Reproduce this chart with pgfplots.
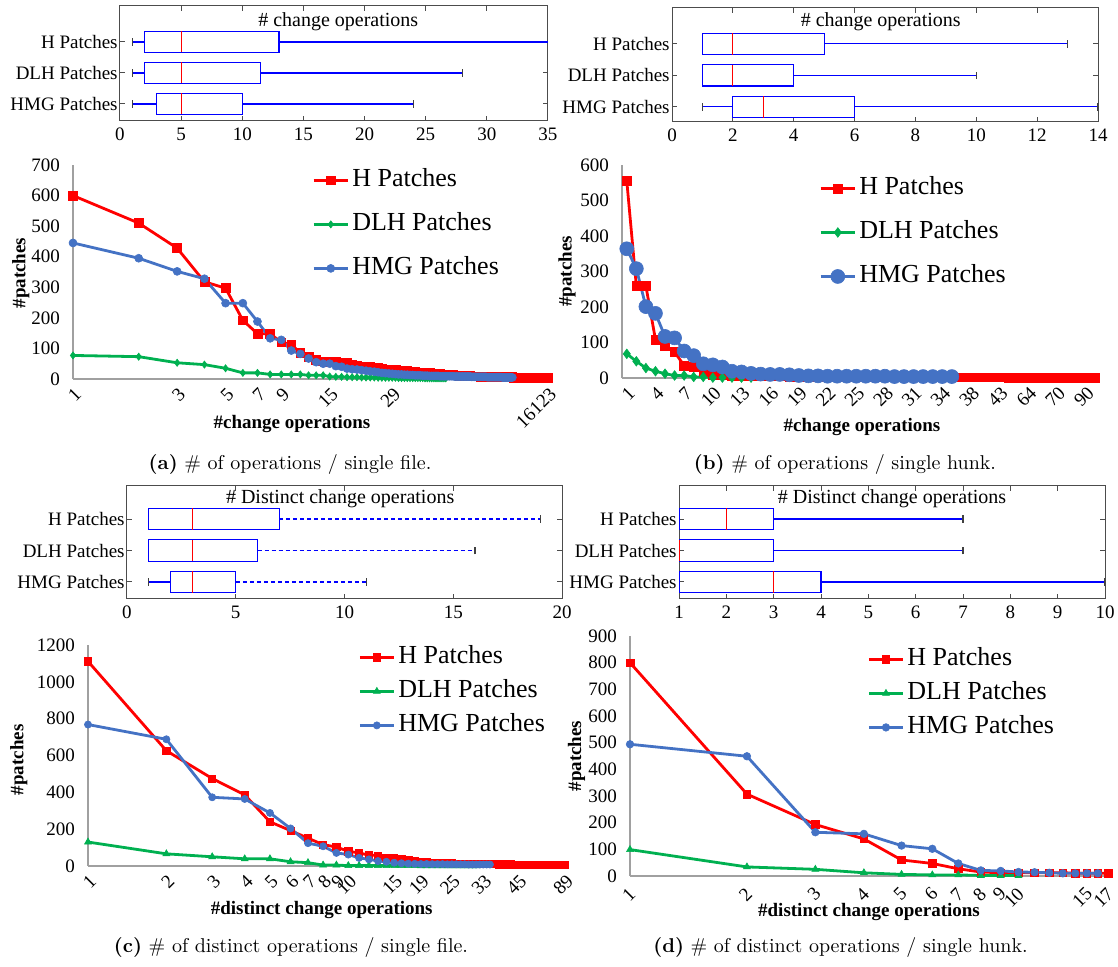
\documentclass[border=0pt]{standalone}
\usepackage{fontspec}
\usepackage{pgfplots}
\usepackage{pgfplotstable}
\pgfplotsset{compat=1.18}
\usepgfplotslibrary{statistics}
\newfontfamily\tnr{Liberation Serif}
\definecolor{xred}{RGB}{255,0,0}
\definecolor{xgreen}{RGB}{0,176,80}
\definecolor{xblue}{RGB}{68,114,196}
\definecolor{mblue}{RGB}{0,0,255}
\definecolor{axgray}{RGB}{160,160,160}
\tikzset{uwhisk/.style={}}

% ---- line chart data (one value per category, in category order) ----
\pgfplotstableread[row sep=\\]{v\\
600\\510\\428\\318\\297\\192\\148\\148\\120\\113\\85\\72\\62\\58\\56\\55\\54\\53\\48\\43\\
41\\40\\39\\38\\36\\34\\32\\31\\30\\29\\28\\27\\26\\26\\25\\24\\23\\22\\22\\21\\
20\\19\\19\\18\\17\\17\\16\\16\\15\\15\\14\\14\\13\\13\\13\\12\\12\\12\\11\\11\\
11\\10\\10\\10\\10\\10\\9\\9\\9\\9\\9\\9\\9\\8\\8\\8\\8\\8\\8\\8\\
8\\8\\7\\7\\7\\7\\7\\7\\7\\7\\7\\6\\6\\6\\6\\6\\6\\6\\6\\6\\
6\\6\\6\\5\\5\\5\\5\\5\\5\\5\\5\\5\\5\\5\\5\\5\\5\\5\\5\\5\\
4\\4\\4\\4\\4\\4\\4\\4\\4\\4\\4\\4\\4\\4\\4\\4\\4\\4\\4\\4\\
4\\4\\3\\3\\3\\3\\3\\3\\3\\3\\}\aH
\pgfplotstableread[row sep=\\]{v\\
77\\73\\53\\47\\35\\20\\20\\15\\15\\15\\15\\12\\12\\12\\8\\7\\7\\6\\6\\6\\
5\\5\\5\\5\\4\\4\\4\\4\\4\\4\\3\\3\\3\\3\\3\\3\\3\\3\\3\\3\\
2\\2\\2\\2\\2\\2\\2\\2\\2\\2\\2\\}\aD
\pgfplotstableread[row sep=\\]{v\\
445\\395\\352\\328\\248\\248\\188\\133\\128\\93\\82\\67\\55\\50\\50\\42\\40\\34\\32\\31\\
29\\27\\25\\24\\22\\20\\19\\18\\17\\16\\15\\15\\14\\14\\13\\13\\12\\12\\12\\11\\
11\\11\\10\\10\\10\\10\\10\\9\\9\\9\\9\\9\\9\\9\\9\\8\\8\\8\\8\\8\\
8\\8\\8\\8\\8\\8\\7\\7\\7\\7\\7\\7\\7\\7\\7\\7\\7\\7\\6\\6\\
6\\6\\6\\6\\6\\6\\6\\6\\6\\6\\6\\6\\5\\5\\5\\5\\5\\5\\5\\5\\5\\5\\5\\}\aM
\pgfplotstableread[row sep=\\]{v\\
555\\259\\259\\108\\91\\73\\35\\31\\17\\10\\8\\7\\6\\6\\5\\5\\5\\4\\4\\4\\
4\\4\\3\\3\\3\\3\\3\\3\\3\\3\\2\\2\\2\\2\\2\\2\\2\\2\\2\\2\\
1\\1\\1\\1\\1\\1\\1\\1\\1\\1\\}\bH
\pgfplotstableread[row sep=\\]{v\\
68\\47\\28\\19\\12\\7\\7\\3\\3\\1\\1\\1\\1\\1\\}\bD
\pgfplotstableread[row sep=\\]{v\\
364\\308\\201\\182\\117\\113\\76\\63\\40\\37\\31\\19\\17\\13\\11\\10\\10\\9\\7\\6\\
6\\5\\5\\5\\5\\5\\5\\5\\4\\4\\4\\4\\4\\4\\4\\}\bM
\pgfplotstableread[row sep=\\]{v\\
1111\\626\\475\\386\\240\\192\\151\\116\\103\\80\\71\\59\\57\\44\\43\\36\\32\\25\\23\\21\\
19\\18\\17\\16\\15\\14\\13\\13\\12\\12\\11\\11\\11\\10\\10\\10\\10\\9\\9\\9\\
9\\9\\8\\8\\8\\8\\8\\8\\8\\7\\7\\7\\7\\7\\7\\7\\6\\6\\6\\6\\
6\\6\\6\\6\\5\\5\\5\\5\\}\cH
\pgfplotstableread[row sep=\\]{v\\
130\\66\\50\\39\\39\\23\\18\\5\\5\\2\\2\\2\\2\\2\\2\\2\\2\\2\\1\\1\\
1\\1\\1\\1\\1\\1\\1\\1\\1\\1\\1\\}\cD
\pgfplotstableread[row sep=\\]{v\\
768\\688\\373\\364\\288\\204\\124\\107\\71\\62\\44\\36\\27\\23\\18\\15\\13\\12\\11\\11\\
10\\10\\10\\9\\9\\9\\9\\9\\8\\8\\8\\8\\8\\8\\8\\}\cM
\pgfplotstableread[row sep=\\]{v\\
800\\307\\193\\139\\60\\47\\27\\15\\12\\12\\12\\12\\12\\11\\10\\10\\10\\}\dH
\pgfplotstableread[row sep=\\]{v\\
99\\34\\25\\12\\6\\4\\4\\2\\2\\2\\}\dD
\pgfplotstableread[row sep=\\]{v\\
494\\449\\164\\158\\114\\102\\47\\21\\19\\15\\14\\12\\10\\10\\10\\10\\}\dM

\pgfplotsset{
  linechart/.style={
    scale only axis, anchor=south west, axis lines*=left,
    axis line style={axgray,line width=0.8pt}, major tick length=0pt,
    ymin=0, clip=false,
    /pgf/number format/assume math mode=true, /pgf/number format/1000 sep={},
    tick label style={font=\tnr\fontsize{9.5}{11}\selectfont},
    yticklabel style={xshift=-3pt},
    xticklabel style={rotate=45,anchor=east,yshift=-6pt,xshift=1pt},
    label style={font=\tnr\bfseries\fontsize{9.5}{11}\selectfont},
    ylabel={\#patches},
    legend cell align=left,
    legend style={draw=none,fill=none,inner sep=0pt,anchor=north west,
      font=\tnr\fontsize{13}{15}\selectfont,
      nodes={inner sep=0pt,text height=9pt,text depth=3pt},
      /tikz/every odd column/.append style={column sep=1.5pt}},
    every axis plot/.append style={line width=1.4pt,mark options={solid,line width=0.3pt}},
  },
  boxchart/.style={
    scale only axis, anchor=south west,
    axis line style={black!70,line width=0.5pt},
    tick style={black!70,line width=0.5pt}, major tick length=2.5pt,
    tick align=inside,
    ytick={1,2,3}, yticklabels={HMG Patches,DLH Patches,H Patches},
    yticklabel style={inner sep=1pt},
    /pgf/number format/assume math mode=true,
    tick label style={font=\tnr\fontsize{9.5}{11}\selectfont},
    boxplot/draw direction=x,
    boxplot/box extend=0.68,
    boxplot/whisker extend=0.24,
    boxplot/every box/.style={draw=mblue,line width=0.6pt},
    boxplot/every median/.style={draw=red,line width=0.6pt},
  },
  boxplot/draw/lower whisker/.code={%
    \draw[mblue,line width=0.6pt] (boxplot cs:\pgfplotsboxplotvalue{lower whisker})
      -- (boxplot cs:\pgfplotsboxplotvalue{lower quartile});
    \draw[black!75,line width=0.6pt] (boxplot whisker cs:\pgfplotsboxplotvalue{lower whisker},0)
      -- (boxplot whisker cs:\pgfplotsboxplotvalue{lower whisker},1);
  },
  boxplot/draw/upper whisker/.code={%
    \draw[mblue,line width=0.6pt,uwhisk] (boxplot cs:\pgfplotsboxplotvalue{upper quartile})
      -- (boxplot cs:\pgfplotsboxplotvalue{upper whisker});
    \draw[black!75,line width=0.6pt] (boxplot whisker cs:\pgfplotsboxplotvalue{upper whisker},0)
      -- (boxplot whisker cs:\pgfplotsboxplotvalue{upper whisker},1);
  },
}

\begin{document}
\begin{tikzpicture}
\path[use as bounding box] (0,0) rectangle (559pt,483.5pt);

% ================= (a) =================
\begin{axis}[boxchart, at={(60pt,423pt)}, width=214pt, height=57.5pt,
  xmin=0, xmax=35, xtick={0,5,...,35}, ymin=0.45, ymax=4.16]
\addplot[mblue,boxplot prepared={draw position=3,lower whisker=1,lower quartile=2,median=5,upper quartile=13,upper whisker=40}] coordinates {};
\addplot[mblue,boxplot prepared={draw position=2,lower whisker=1,lower quartile=2,median=5,upper quartile=11.5,upper whisker=28}] coordinates {};
\addplot[mblue,boxplot prepared={draw position=1,lower whisker=1,lower quartile=3,median=5,upper quartile=10,upper whisker=24}] coordinates {};
\node[font=\tnr\fontsize{10}{12}\selectfont] at (axis description cs:0.51,0.86) {\# change operations};
\end{axis}

\begin{axis}[linechart, at={(36.5pt,294pt)}, width=237.5pt, height=107pt,
  xmode=log, xmin=1, xmax=150, ymax=700, ytick={0,100,...,700},
  xtick={1,3,5,7,9,15,29,150}, xticklabels={1,3,5,7,9,15,29,16123},
  xlabel={\#change operations},
  xlabel style={at={(axis description cs:0.461,-0.21)},anchor=center},
  ylabel style={at={(axis description cs:-0.11,0.495)},anchor=center},
  legend style={at={(axis description cs:0.503,0.986)},row sep=10pt}]
\addplot[xred,mark=square*,mark size=2.2pt] table[x expr=\coordindex+1,y=v] {\aH};
\addplot[xgreen,mark=diamond*,mark size=1.8pt] table[x expr=\coordindex+1,y=v] {\aD};
\addplot[xblue,mark=*,mark size=2pt] table[x expr=\coordindex+1,y=v] {\aM};
\legend{H Patches,DLH Patches,HMG Patches}
\end{axis}
\node[font=\fontsize{10}{12}\selectfont] at (145pt,251pt) {\textbf{(a)} \# of operations / single file.};

% ================= (b) =================
\begin{axis}[boxchart, at={(336pt,422.5pt)}, width=213pt, height=57pt,
  xmin=0, xmax=14, xtick={0,2,...,14}, ymin=0.52, ymax=4.14]
\addplot[mblue,boxplot prepared={draw position=3,lower whisker=1,lower quartile=1,median=2,upper quartile=5,upper whisker=13}] coordinates {};
\addplot[mblue,boxplot prepared={draw position=2,lower whisker=1,lower quartile=1,median=2,upper quartile=4,upper whisker=10}] coordinates {};
\addplot[mblue,boxplot prepared={draw position=1,lower whisker=1,lower quartile=2,median=3,upper quartile=6,upper whisker=14}] coordinates {};
\node[font=\tnr\fontsize{10}{12}\selectfont] at (axis description cs:0.49,0.88) {\# change operations};
\end{axis}

\begin{axis}[linechart, at={(311pt,294.5pt)}, width=239pt, height=106.5pt,
  xmin=0.5, xmax=50.5, ymax=600, ytick={0,100,...,600},
  xtick={1,4,...,49}, xticklabels={1,4,7,10,13,16,19,22,25,28,31,34,38,43,64,70,90},
  xlabel={\#change operations},
  xlabel style={at={(axis description cs:0.502,-0.23)},anchor=center},
  ylabel style={at={(axis description cs:-0.115,0.5)},anchor=center},
  legend style={at={(axis description cs:0.412,0.948)},row sep=10pt}]
\addplot[xred,mark=square*,mark size=2.2pt] table[x expr=\coordindex+1,y=v] {\bH};
\addplot[xgreen,mark=diamond*,mark size=2.4pt] table[x expr=\coordindex+1,y=v] {\bD};
\addplot[xblue,mark=*,mark size=3.5pt] table[x expr=\coordindex+1,y=v] {\bM};
\legend{H Patches,DLH Patches,HMG Patches}
\end{axis}
\node[font=\fontsize{10}{12}\selectfont] at (422.5pt,251pt) {\textbf{(b)} \# of operations / single hunk.};

% ================= (c) =================
\begin{axis}[boxchart, at={(63.5pt,184pt)}, width=217.5pt, height=56.5pt,
  xmin=0, xmax=20, xtick={0,5,...,20}, ymin=0.46, ymax=4.05,
  /tikz/uwhisk/.style={dash pattern=on 2pt off 1.5pt}]
\addplot[mblue,boxplot prepared={draw position=3,lower whisker=1,lower quartile=1,median=3,upper quartile=7,upper whisker=19}] coordinates {};
\addplot[mblue,boxplot prepared={draw position=2,lower whisker=1,lower quartile=1,median=3,upper quartile=6,upper whisker=16}] coordinates {};
\addplot[mblue,boxplot prepared={draw position=1,lower whisker=1,lower quartile=2,median=3,upper quartile=5,upper whisker=11}] coordinates {};
\node[font=\tnr\fontsize{10}{12}\selectfont] at (axis description cs:0.49,0.89) {\# Distinct change operations};
\end{axis}

\begin{axis}[linechart, at={(44pt,50.5pt)}, width=238.5pt, height=110.5pt,
  xmode=log, xmin=1, xmax=68, ymax=1200, ytick={0,200,...,1200},
  xtick={1,2,3,4,5,6,7,8,9,10,15,19,25,33,45,68},
  xticklabels={1,2,3,4,5,6,7,8,9,10,15,19,25,33,45,89},
  xlabel={\#distinct change operations},
  xlabel style={at={(axis description cs:0.49,-0.2)},anchor=center},
  ylabel style={at={(axis description cs:-0.145,0.48)},anchor=center},
  legend style={at={(axis description cs:0.566,1.0)},row sep=5pt}]
\addplot[xred,mark=square*,mark size=1.8pt] table[x expr=\coordindex+1,y=v] {\cH};
\addplot[xgreen,mark=triangle*,mark size=2pt] table[x expr=\coordindex+1,y=v] {\cD};
\addplot[xblue,mark=*,mark size=1.8pt] table[x expr=\coordindex+1,y=v] {\cM};
\legend{H Patches,DLH Patches,HMG Patches}
\end{axis}
\node[font=\fontsize{10}{12}\selectfont] at (145.5pt,9.5pt) {\textbf{(c)} \# of distinct operations / single file.};

% ================= (d) =================
\begin{axis}[boxchart, at={(339.5pt,184pt)}, width=213pt, height=56.5pt,
  xmin=1, xmax=10, xtick={1,...,10}, ymin=0.46, ymax=4.05]
\addplot[mblue,boxplot prepared={draw position=3,lower whisker=1,lower quartile=1,median=2,upper quartile=3,upper whisker=7}] coordinates {};
\addplot[mblue,boxplot prepared={draw position=2,lower whisker=1,lower quartile=1,median=1,upper quartile=3,upper whisker=7}] coordinates {};
\addplot[mblue,boxplot prepared={draw position=1,lower whisker=1,lower quartile=1,median=3,upper quartile=4,upper whisker=10}] coordinates {};
\node[font=\tnr\fontsize{10}{12}\selectfont] at (axis description cs:0.5,0.89) {\# Distinct change operations};
\end{axis}

\begin{axis}[linechart, at={(315pt,45.5pt)}, width=239pt, height=120pt,
  xmode=log, xmin=1, xmax=17, ymax=900, ytick={0,100,...,900},
  xtick={1,2,3,4,5,6,7,8,9,10,15,17},
  xticklabels={1,2,3,4,5,6,7,8,9,10,15,17},
  xticklabel style={xshift=-2pt},
  xlabel={\#distinct change operations},
  xlabel style={at={(axis description cs:0.5,-0.15)},anchor=center},
  ylabel style={at={(axis description cs:-0.112,0.5)},anchor=center},
  legend style={at={(axis description cs:0.496,0.954)},row sep=5pt}]
\addplot[xred,mark=square*,mark size=1.9pt] table[x expr=\coordindex+1,y=v] {\dH};
\addplot[xgreen,mark=triangle*,mark size=2pt] table[x expr=\coordindex+1,y=v] {\dD};
\addplot[xblue,mark=*,mark size=1.9pt] table[x expr=\coordindex+1,y=v] {\dM};
\legend{H Patches,DLH Patches,HMG Patches}
\end{axis}
\node[font=\fontsize{10}{12}\selectfont] at (420.25pt,9.5pt) {\textbf{(d)} \# of distinct operations / single hunk.};
\end{tikzpicture}
\end{document}
